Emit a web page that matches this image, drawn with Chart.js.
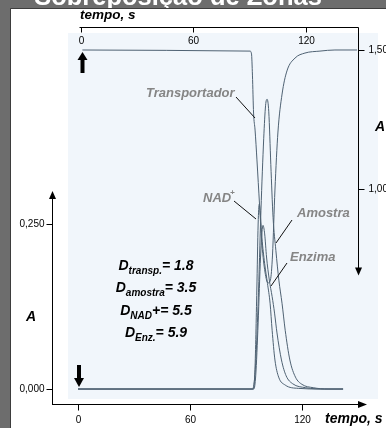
<!DOCTYPE html>
<html>
<head>
<meta charset="utf-8">
<script src="https://cdn.jsdelivr.net/npm/chart.js@4"></script>
<style>
  html, body { margin: 0; padding: 0; background: #fff; }
  #wrap { width: 386px; height: 428px; position: relative; }
</style>
</head>
<body>
<div id="wrap"><canvas id="chart"></canvas></div>
<script>
const title = 'Sobreposição de Zonas';

// carrier (top / right axes)
const transpT = [1, 90.4, 91.2, 91.7, 92.3, 93.1, 94.1, 95.5, 96.8, 98.4, 100, 101.3, 102.4, 103.7, 105.3, 107.5, 110.1, 114.4, 119.7, 127.7, 135.7, 147.5];
const transpA = [1.5, 1.496, 1.486, 1.41, 1.274, 1.213, 1.106, 0.944, 0.801, 0.704, 0.665, 0.676, 0.765, 0.998, 1.206, 1.342, 1.425, 1.471, 1.489, 1.496, 1.5, 1.5];

// bottom / left axes
const amostraT = [0, 93.5, 95, 96.5, 98, 99.5, 100.5, 101.3, 102.2, 103.3, 104.5, 106, 107.6, 109.3, 111, 113.5, 116.5, 120, 126, 134, 142];
const amostraA = [0, 0, 0.03, 0.13, 0.27, 0.38, 0.43, 0.439, 0.42, 0.34, 0.26, 0.21, 0.165, 0.13, 0.089, 0.044, 0.018, 0.007, 0.002, 0, 0];
const nadT = [0, 93.8, 94.8, 95.8, 96.5, 97.1, 97.8, 98.5, 100, 101.5, 102.9, 104, 105.5, 107.5, 111, 118, 130, 142];
const nadA = [0, 0, 0.03, 0.15, 0.25, 0.28, 0.26, 0.23, 0.19, 0.16, 0.13, 0.089, 0.044, 0.018, 0.006, 0.001, 0, 0];
const enzT = [0, 94.2, 95.2, 96.5, 97.8, 99.1, 100, 101, 102.5, 104, 105.3, 106.6, 109, 111.5, 115, 122, 132, 142];
const enzA = [0, 0, 0.02, 0.1, 0.2, 0.248, 0.235, 0.2, 0.165, 0.14, 0.115, 0.085, 0.044, 0.02, 0.008, 0.002, 0, 0];

const timeTicks = [0, 60, 120];
const leftTicks = [0, 0.25];
const leftTickLabels = ['0,000', '0,250'];
const rightTicks = [1.0, 1.5];
const rightTickLabels = ['1,00', '1,50'];

const dLines = [
  ['transp.', '= 1.8'],
  ['amostra', '= 3.5'],
  ['NAD', '+= 5.5'],
  ['Enz.', '= 5.9']
];

const lineColor = '#4f6273';
const FONT = '"Liberation Sans", Arial, sans-serif';

function pts(t, a) {
  return t.map((v, i) => ({ x: v, y: a[i] }));
}

function arrowHead(c, x, y, dir, w, l) {
  c.beginPath();
  c.moveTo(x, y);
  if (dir === 'up') { c.lineTo(x - w, y + l); c.lineTo(x + w, y + l); }
  if (dir === 'down') { c.lineTo(x - w, y - l); c.lineTo(x + w, y - l); }
  if (dir === 'right') { c.lineTo(x - l, y - w); c.lineTo(x - l, y + w); }
  c.closePath();
  c.fill();
}

function line(c, x1, y1, x2, y2) {
  c.beginPath();
  c.moveTo(x1, y1);
  c.lineTo(x2, y2);
  c.stroke();
}

const drawing = {
  id: 'drawing',
  beforeDraw(chart) {
    const c = chart.ctx;
    c.save();
    c.fillStyle = '#6d6d6d';
    c.fillRect(0, 0, chart.width, chart.height);
    c.fillStyle = '#ffffff';
    c.font = 'bold 25.5px ' + FONT;
    c.textAlign = 'center';
    c.textBaseline = 'alphabetic';
    c.fillText(title, 178, 5);
    c.fillRect(11, 9, chart.width - 11, chart.height - 9);
    c.strokeStyle = '#3d3d3d';
    c.lineWidth = 1;
    c.beginPath();
    c.moveTo(10.5, chart.height);
    c.lineTo(10.5, 8.5);
    c.lineTo(chart.width, 8.5);
    c.stroke();
    c.fillStyle = '#f1f6fb';
    c.fillRect(68, 33, 310, 366);
    c.restore();
  },
  afterDraw(chart) {
    const c = chart.ctx;
    const { x, xTop, y, yRight } = chart.scales;
    const a = chart.chartArea;
    c.save();
    c.fillStyle = '#000';
    c.strokeStyle = '#000';
    c.lineWidth = 1;

    // bottom axis
    const by = Math.round(a.bottom) + 0.5;
    line(c, a.left, by, a.right + 3, by);
    arrowHead(c, a.right + 9, by, 'right', 3.5, 9);
    c.font = '10px ' + FONT;
    c.textAlign = 'center';
    c.textBaseline = 'middle';
    timeTicks.forEach(t => {
      const px = Math.round(x.getPixelForValue(t)) + 0.5;
      line(c, px, by, px, by + 6);
      c.fillText(String(t), px, by + 16);
    });
    c.font = 'bold italic 14px ' + FONT;
    c.textAlign = 'left';
    c.fillText('tempo, s', 325, by + 15);

    // left axis
    const lx = Math.round(a.left) + 0.5;
    const lTop = y.getPixelForValue(0.25) - 33;
    line(c, lx, lTop + 6, lx, by);
    arrowHead(c, lx, lTop, 'up', 3.5, 8);
    c.font = '10px ' + FONT;
    c.textAlign = 'right';
    leftTicks.forEach((v, i) => {
      const py = Math.round(y.getPixelForValue(v)) + 0.5;
      line(c, lx - 6, py, lx, py);
      c.fillText(leftTickLabels[i], lx - 8, py);
    });
    c.font = 'bold italic 14px ' + FONT;
    c.textAlign = 'center';
    c.fillText('A', 31, (y.getPixelForValue(0.25) + y.getPixelForValue(0)) / 2 + 11);

    // top axis
    const ty = Math.round(a.top) + 0.5;
    const rx = Math.round(a.right) + 0.5;
    line(c, xTop.getPixelForValue(0) - 1, ty, rx, ty);
    c.font = '10px ' + FONT;
    c.textAlign = 'center';
    timeTicks.forEach(t => {
      const px = Math.round(xTop.getPixelForValue(t)) + 0.5;
      line(c, px, ty, px, ty + 5);
      c.fillText(String(t), px, ty + 14);
    });
    c.font = 'bold italic 13.5px ' + FONT;
    c.textAlign = 'left';
    c.fillText('tempo, s', 80, 15);

    // right axis
    const rBottom = yRight.getPixelForValue(1.0) + 86;
    line(c, rx, ty, rx, rBottom - 6);
    arrowHead(c, rx, rBottom, 'down', 3.5, 8);
    c.font = '10px ' + FONT;
    c.textAlign = 'left';
    rightTicks.forEach((v, i) => {
      const py = Math.round(yRight.getPixelForValue(v)) + 0.5;
      line(c, rx, py, rx + 6, py);
      c.fillText(rightTickLabels[i], rx + 10, py);
    });
    c.font = 'bold italic 14px ' + FONT;
    c.fillText('A', 375, 127);

    // injection arrows
    const ux = xTop.getPixelForValue(0) + 2;
    c.fillRect(ux - 2, 59, 4, 14);
    arrowHead(c, ux, 52, 'up', 5, 8);
    const dx = x.getPixelForValue(0) + 1;
    c.fillRect(dx - 2, 365, 4, 14);
    arrowHead(c, dx, 387, 'down', 5, 9);

    // zone labels
    c.fillStyle = '#858585';
    c.font = 'bold italic 13px ' + FONT;
    c.textAlign = 'left';
    c.textBaseline = 'middle';
    c.fillText('Transportador', 146, 93);
    c.fillText('Amostra', 297, 213);
    c.fillText('Enzima', 290, 257);
    c.fillText('NAD', 203, 198);
    c.font = 'bold italic 8px ' + FONT;
    c.fillText('+', 230, 193);
    c.strokeStyle = '#111';
    line(c, 236, 97, 255, 118);
    line(c, 234, 201, 256, 219);
    line(c, 292, 220, 276, 243);
    line(c, 287, 263, 271, 286);

    // dispersion coefficients
    c.fillStyle = '#000';
    c.textBaseline = 'alphabetic';
    const big = 'bold italic 14px ' + FONT;
    const small = 'bold italic 10px ' + FONT;
    const baselines = [270, 292, 315, 337];
    dLines.forEach((d, i) => {
      c.font = big; const wD = c.measureText('D').width;
      const wV = c.measureText(d[1]).width;
      c.font = small; const wS = c.measureText(d[0]).width;
      let px = 156 - (wD + wS + wV) / 2;
      c.font = big; c.fillText('D', px, baselines[i]); px += wD;
      c.font = small; c.fillText(d[0], px, baselines[i] + 4); px += wS;
      c.font = big; c.fillText(d[1], px, baselines[i]);
    });
    c.restore();
  }
};

new Chart(document.getElementById('chart'), {
  type: 'line',
  data: {
    datasets: [
      { label: 'Transportador', data: pts(transpT, transpA), xAxisID: 'xTop', yAxisID: 'yRight' },
      { label: 'Amostra', data: pts(amostraT, amostraA), xAxisID: 'x', yAxisID: 'y' },
      { label: 'NAD+', data: pts(nadT, nadA), xAxisID: 'x', yAxisID: 'y' },
      { label: 'Enzima', data: pts(enzT, enzA), xAxisID: 'x', yAxisID: 'y' }
    ]
  },
  options: {
    responsive: true,
    maintainAspectRatio: false,
    animation: false,
    layout: { padding: { left: 52, right: 28, top: 27, bottom: 24 } },
    elements: {
      point: { radius: 0 },
      line: { borderWidth: 1, borderColor: lineColor, fill: false, cubicInterpolationMode: 'monotone' }
    },
    plugins: {
      legend: { display: false },
      tooltip: { enabled: false }
    },
    scales: {
      x: { type: 'linear', display: false, min: -13.93, max: 150 },
      xTop: { type: 'linear', position: 'top', display: false, min: -15.2, max: 148 },
      y: { type: 'linear', display: false, min: -0.0227, max: 0.5485 },
      yRight: { type: 'linear', position: 'right', display: false, min: 0.2312, max: 1.5824 }
    }
  },
  plugins: [drawing]
});
</script>
</body>
</html>
